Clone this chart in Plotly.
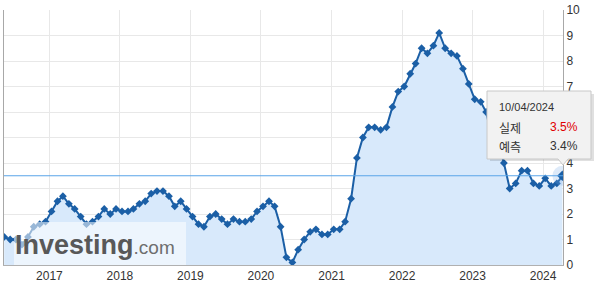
import pandas as pd
import plotly.graph_objects as go

# US CPI YoY (%) by release month, Apr-2016 data through Mar-2024 data
values = [
    1.1, 1.0, 1.0, 0.8, 1.1, 1.5, 1.6, 1.7, 2.1,
    2.5, 2.7, 2.4, 2.2, 1.9, 1.6, 1.7, 1.9, 2.2, 2.0, 2.2, 2.1,
    2.1, 2.2, 2.4, 2.5, 2.8, 2.9, 2.9, 2.7, 2.3, 2.5, 2.2, 1.9,
    1.6, 1.5, 1.9, 2.0, 1.8, 1.6, 1.8, 1.7, 1.7, 1.8, 2.1, 2.3,
    2.5, 2.3, 1.5, 0.3, 0.1, 0.6, 1.0, 1.3, 1.4, 1.2, 1.2, 1.4,
    1.4, 1.7, 2.6, 4.2, 5.0, 5.4, 5.4, 5.3, 5.4, 6.2, 6.8, 7.0,
    7.5, 7.9, 8.5, 8.3, 8.6, 9.1, 8.5, 8.3, 8.2, 7.7, 7.1, 6.5,
    6.4, 6.0, 5.0, 4.9, 4.0, 3.0, 3.2, 3.7, 3.7, 3.2, 3.1, 3.4,
    3.1, 3.2, 3.5,
]
release_dates = list(pd.date_range("2016-05-01", periods=len(values), freq="MS") + pd.Timedelta(days=11))
release_dates[-1] = pd.Timestamp("2024-04-10")

y_ticks = list(range(0, 11))
# labels 5 and 6 are hidden behind the tooltip in the reference
y_tick_labels = ["0", "1", "2", "3", "4", "", "", "7", "8", "9", "10"]

tooltip_date = "10/04/2024"
actual_label, actual_value = "실제", "3.5%"
forecast_label, forecast_value = "예측", "3.4%"

W, H = 600, 296
L, R, T, B = 4, 37, 10, 31
PW, PH = W - L - R, H - T - B


def px(x):
    return (x - L) / PW


def py(y):
    return (H - B - y) / PH


LINE = "#1b5fa6"
FILL = "#d8e9fb"

fig = go.Figure()
fig.add_trace(go.Scatter(
    x=release_dates, y=values, mode="lines+markers",
    line=dict(color=LINE, width=2),
    marker=dict(symbol="diamond", size=6, color=LINE),
    fill="tozeroy", fillcolor=FILL,
    hoverinfo="skip",
))
# halo on last point
fig.add_trace(go.Scatter(
    x=[release_dates[-1]], y=[values[-1]], mode="markers",
    marker=dict(symbol="circle", size=20, color="rgba(120,170,230,0.25)"),
    hoverinfo="skip",
))
fig.add_trace(go.Scatter(
    x=[release_dates[-1]], y=[values[-1]], mode="markers",
    marker=dict(symbol="diamond", size=8, color=LINE),
    hoverinfo="skip",
))

shapes = [
    # last value line
    dict(type="line", xref="paper", yref="y", x0=0, x1=1, y0=values[-1], y1=values[-1],
         line=dict(color="#5aa5e8", width=1), layer="above"),
    # watermark backdrop
    dict(type="rect", xref="paper", yref="paper", x0=px(14), x1=px(186), y0=py(222), y1=py(265),
         fillcolor="rgba(255,255,255,0.55)", line=dict(width=0), layer="above"),
    # tooltip shadow
    dict(type="rect", xref="paper", yref="paper", x0=px(490), x1=px(594), y0=py(94), y1=py(161),
         fillcolor="rgba(0,0,0,0.12)", line=dict(width=0), layer="above"),
    # tooltip box
    dict(type="path", xref="paper", yref="paper",
         path=(f"M {px(487)},{py(91)} L {px(591)},{py(91)} L {px(591)},{py(159)} "
               f"L {px(568)},{py(159)} L {px(563)},{py(165)} L {px(558)},{py(159)} "
               f"L {px(487)},{py(159)} Z"),
         fillcolor="#f2f2f2", line=dict(color="#c8c8c8", width=1), layer="above"),
]

font = "Liberation Sans, Arial, sans-serif"
annotations = [
    dict(xref="paper", yref="paper", x=px(497), y=py(107), text=tooltip_date, showarrow=False,
         xanchor="left", yanchor="middle", font=dict(family=font, size=11, color="#333")),
    dict(xref="paper", yref="paper", x=px(497), y=py(127), text=actual_label, showarrow=False,
         xanchor="left", yanchor="middle", font=dict(family="Noto Sans CJK KR", size=12, color="#333")),
    dict(xref="paper", yref="paper", x=px(580), y=py(127), text=actual_value, showarrow=False,
         xanchor="right", yanchor="middle", font=dict(family=font, size=12, color="#e00000")),
    dict(xref="paper", yref="paper", x=px(497), y=py(146), text=forecast_label, showarrow=False,
         xanchor="left", yanchor="middle", font=dict(family="Noto Sans CJK KR", size=12, color="#333")),
    dict(xref="paper", yref="paper", x=px(580), y=py(146), text=forecast_value, showarrow=False,
         xanchor="right", yanchor="middle", font=dict(family=font, size=12, color="#333")),
    # watermark
    dict(xref="paper", yref="paper", x=px(13), y=py(245),
         text="<b>Investing</b><span style='font-size:19px;color:#6e6e6e'>.com</span>",
         showarrow=False, xanchor="left", yanchor="middle",
         font=dict(family=font, size=27, color="#585858")),
]

fig.update_layout(
    width=W, height=H,
    margin=dict(l=L, r=R, t=T, b=B),
    paper_bgcolor="white", plot_bgcolor="white",
    showlegend=False,
    shapes=shapes, annotations=annotations,
    xaxis=dict(
        range=["2016-05-11", "2024-04-13"],
        tick0="2017-01-01", dtick="M12", tickformat="%Y",
        showgrid=True, gridcolor="#e8e8e8", gridwidth=1,
        showline=True, linecolor="#b0b0b0", linewidth=1,
        ticks="", zeroline=False,
        tickfont=dict(family=font, size=12, color="#333"),
    ),
    yaxis=dict(
        side="right", range=[0, 10],
        tickmode="array", tickvals=y_ticks, ticktext=y_tick_labels,
        showgrid=True, gridcolor="#e8e8e8", gridwidth=1,
        showline=True, mirror=True, linecolor="#a8a8a8", linewidth=1,
        ticks="", zeroline=False,
        tickfont=dict(family=font, size=12, color="#333"),
    ),
)

fig.write_html("out.html")
